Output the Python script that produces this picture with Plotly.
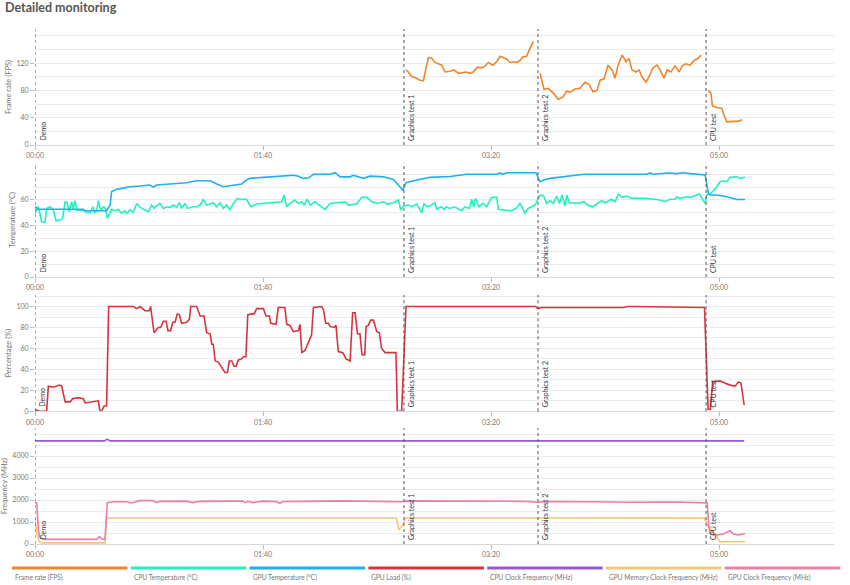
import plotly.graph_objects as go

# ---------------- data (time in seconds) ----------------
marker_times = [0, 161.8, 220.6, 294.3]
marker_labels = ["Demo", "Graphics test 1", "Graphics test 2", "CPU test"]

x_tickvals = [0, 100, 200, 300]
x_ticktext = ["00:00", "01:40", "03:20", "05:00"]

fps_ticks = [0, 40, 80, 120]
temp_ticks = [0, 20, 40, 60]
pct_ticks = [0, 20, 40, 60, 80, 100]
freq_ticks = [0, 1000, 2000, 3000, 4000]

fps_t = [162.7, 163.7, 165.2, 166.7, 168.9, 170.3, 171.0, 172.5, 174.0, 175.4, 178.4, 179.8,
         182.0, 183.8, 185.7, 187.9, 189.0, 190.8, 192.2, 194.0, 195.9, 197.4, 198.8, 200.7,
         202.5, 203.9, 205.7, 206.9, 208.3, 209.8, 211.5, 212.7, 213.9, 215.6, 217.1, 218.6,
         219.5,
         221.5, 223.2, 225.1, 227.3, 229.5, 231.4, 233.2, 234.6, 236.8, 239.0, 241.2, 243.0,
         244.7, 246.5, 247.8, 249.6, 251.3, 253.1, 254.4, 255.7, 257.5, 259.2, 260.5, 261.8,
         263.6, 264.9, 266.2, 268.0, 269.7, 271.0, 272.8, 274.1, 275.9, 277.2, 278.9, 280.7,
         282.5, 283.8, 285.5, 287.3, 289.0, 290.8, 292.1,
         293.2,
         295.3, 296.4, 297.1, 299.0, 301.2, 301.9, 303.4, 306.3, 308.5, 310.2]
fps_v = [110, 107, 100, 99, 95, 94, 105, 128, 127, 121, 117, 107,
         108, 110, 105, 106, 107, 105, 107, 114, 113, 116, 121, 117,
         122, 130, 127, 126, 121, 122, 121, 124, 129, 130, 142, 152,
         None,
         105, 82, 83, 76, 67, 70, 79, 77, 82, 83, 92, 89,
         78, 80, 95, 97, 117, 110, 98, 117, 132, 122, 127, 110,
         107, 110, 100, 92, 103, 113, 117, 110, 98, 110, 107, 116,
         107, 116, 119, 117, 124, 127, 132,
         None,
         80, 76, 57, 55, 54, 46, 34, 34, 35, 37]

cpu_temp_t = [0, 1.5, 2.9, 4.4, 5.1, 6.6, 8.0, 9.2, 11.0, 12.1, 13.2, 14.1, 15.0, 16.1, 16.8,
              17.5, 18.3, 21.2, 22.7, 24.2, 25.3, 26.3, 27.0, 27.8, 28.8, 30.0, 31.0, 31.7,
              33.6, 35.1, 36.5, 38.0, 39.4, 40.2, 41.7, 43.1, 44.6, 45.8, 47.5, 49.7, 51.2,
              52.2, 53.3, 54.8, 56.3, 57.8, 59.2, 60.7, 62.1, 63.3, 64.3, 65.8, 66.8, 68.0,
              69.5, 70.9, 72.4, 73.8, 75.3, 76.8, 78.2, 79.7, 81.1, 82.6, 84.0, 85.5, 87.0,
              88.8, 90.0, 92.8, 94.6, 97.2, 100.1, 103.0, 106.0, 108.2, 109.2, 110.4, 111.8,
              114.0, 115.5, 117.0, 118.0, 119.4, 120.8, 122.8, 125.0, 127.2, 129.4, 132.3,
              134.5, 136.0, 137.5, 141.1, 143.3, 145.5, 147.7, 149.9, 152.8, 154.3, 157.2,
              158.6, 159.4, 160.4, 161.6, 163.8, 165.2, 167.4, 169.6, 170.6, 171.8, 173.2,
              175.4, 176.2, 178.0, 179.5, 180.3, 181.7, 184.0, 187.1, 188.5, 190.5, 191.5,
              192.4, 193.2, 194.6, 196.5, 198.0, 200.3, 202.5, 203.2, 205.9, 208.8, 211.0,
              212.7, 214.1, 214.9, 216.3, 219.3, 220.0, 221.5, 223.0, 224.4, 225.9, 227.3,
              228.8, 230.0, 231.1, 232.5, 233.2, 234.4, 236.1, 238.3, 240.7, 242.2, 244.6,
              246.8, 248.5, 250.0, 252.9, 254.4, 255.8, 257.3, 259.5, 261.8, 264.7, 267.7,
              271.2, 274.1, 276.3, 278.5, 280.7, 281.4, 282.9, 285.8, 287.3, 290.2, 291.4,
              292.8, 293.9, 294.6, 296.0, 297.5, 299.0, 300.4, 301.9, 303.4, 304.8, 307.8,
              309.2, 311.4]
cpu_temp_v = [49.5, 55, 43, 42.5, 53.4, 54.5, 52.5, 43.8, 44.3, 45.6, 58.6, 58, 50.8, 58.6, 52.6,
              59.4, 52, 52, 50, 50, 54.7, 50, 51.5, 59.4, 52, 54.7, 53.3, 45.7,
              52.7, 51.6, 52.7, 49.6, 51.6, 49.6, 52.3, 50.2, 57.3, 54.7, 52.7, 51, 56,
              53.4, 55.3, 57.3, 53.4, 54.7, 54.2, 56, 54.2, 57.8, 53.4, 57.3, 53.4, 54.2,
              54.7, 54.7, 56, 60.5, 56, 56.8, 57.8, 54.7, 57.8, 53.4, 56, 52.3, 57.3,
              61.2, 60.5, 60.5, 54.7, 56.8, 57.3, 57.3, 57.8, 58.6, 63.8, 54.7, 57.3,
              59.9, 57.3, 58.6, 56, 60.5, 56, 58.6, 55.3, 52.7, 57.3, 57.8,
              57.8, 58.6, 56, 56.8, 62, 62, 58.6, 57.3, 58.6, 56.8, 57.8,
              59.4, 59.9, 52.1, 55.3, 56, 54.7, 56.8, 50, 57.3, 54.7, 55.3,
              57.8, 52.7, 54.7, 52.7, 54.7, 53.4, 54.7, 51.6, 54.7, 53.4, 60.5,
              54.7, 61.2, 54.7, 57.3, 54.7, 62, 62, 52.7, 52.1, 51.6, 53.4,
              57.3, 52.7, 49.6, 53.4, 56, 58.6, 63.8, 63.1, 57.3, 59.4, 57.3,
              63, 57.3, 63.8, 55.3, 63.8, 57.3, 57.8, 57.3, 58.6, 56, 54.7,
              57.3, 59.4, 57.8, 60.5, 58.6, 64.6, 62, 63, 61.2, 61.2, 61.2,
              60.5, 59.9, 58.6, 60.5, 60.5, 62.5, 61.2, 62.5, 62, 63.8, 64.6,
              60.5, 57.3, 63.8, 64.6, 67.2, 70.3, 74.2, 74.7, 74.2, 77.6, 78,
              76.8, 77.6]

gpu_temp_t = [0, 1.5, 21.2, 21.9, 31.4, 32.9, 33.6, 35.5, 38.0, 41.7, 46.0, 50.4, 51.9, 53.3,
              59.2, 66.5, 70.9, 76.8, 79.7, 82.6, 85.5, 90.6, 92.8, 94.3, 100.1, 108.9, 113.3,
              115.5, 117.7, 120.0, 122.1, 129.4, 131.6, 133.8, 138.2, 139.6, 144.0, 147.0,
              152.8, 157.2, 159.4, 161.3, 162.7, 164.5, 167.4, 173.2, 182.0, 189.3, 202.5,
              203.9, 205.0, 206.9, 219.7, 221.5, 223.0, 225.9, 231.7, 237.6, 240.7, 268.3,
              269.7, 271.0, 276.3, 277.7, 281.4, 284.3, 287.3, 292.8, 293.9, 295.3, 296.0,
              299.0, 303.4, 307.8, 311.4]
gpu_temp_v = [54.7, 52.7, 52.7, 51.6, 51.6, 56, 66.4, 68.2, 69, 70.3, 70.8, 71.6, 70, 71.6,
              72.4, 73.4, 75, 75, 72.4, 70.3, 71, 72.4, 75.5, 76.8, 77.6, 78.8, 79.2,
              78.5, 76.8, 77.2, 79.9, 80, 81.2, 78, 78, 79.2, 76.8, 78.5,
              78, 76, 71.6, 67.7, 73.4, 74, 75.5, 77.6, 78.3, 80, 80,
              81, 80, 81.2, 81.2, 74.2, 75.5, 76.8, 78, 79.4, 80, 80,
              81, 80, 80.5, 81, 80.5, 81.2, 80.5, 80, 79.5, 65, 63.8,
              63.8, 62.5, 60.4, 60.4]

gpu_load_t = [0, 1.5, 5.1, 5.85, 8.0, 10.7, 11.7, 13.2, 15.4, 16.5, 19.0, 21.2, 22.0, 24.9,
              26.3, 27.8, 28.5, 29.2, 30.3, 31.4, 32.3, 43.1, 44.6, 46.1, 48.25, 50.1, 50.7,
              52.2, 54.1, 55.1, 56.3, 57.5, 58.3, 59.5, 60.4, 61.4, 62.4, 63.3, 64.3, 66.5,
              67.7, 68.3, 70.9, 72.4, 74.1, 75.3, 76.8, 77.5, 78.2, 79.0, 80.4, 81.9, 83.3,
              84.4, 85.2, 86.3, 87.3, 88.2, 89.2, 90.6, 91.4, 92.5, 93.3, 95.0, 96.1, 97.2,
              100.2, 101.3, 102.8, 103.4, 105.7, 106.7, 109.6, 110.4, 111.8, 113.3, 115.5,
              116.2, 117.0, 118.4, 119.9, 121.3, 122.1, 125.7, 126.5, 127.5, 128.7, 129.4,
              131.1, 132.0, 133.0, 135.0, 136.4, 138.2, 139.3, 140.4, 141.4, 142.5, 143.4,
              144.6, 145.2, 146.2, 147.2, 148.4, 149.9, 151.0, 152.0, 153.5, 158.3, 158.9,
              160.8, 162.7, 200.0, 219.5, 220.5, 222.0, 258.0, 260.0, 262.0, 293.6, 295.2,
              296.2, 297.2, 300.4, 302.5, 304.8, 307.0, 308.5, 309.6, 311.0]
gpu_load_v = [2, 0, 0, 24, 23, 25, 24, 9, 9, 12, 13, 12, 8, 9,
              10, 10, 0, 0, 5, 5, 100, 100, 98, 100, 96, 96, 100,
              75, 80, 80, 86, 86, 77, 77, 85, 85, 93, 92, 84, 85,
              88, 100, 100, 91, 91, 75, 74, 64, 64, 48, 47, 42, 37,
              37, 48, 48, 43, 43, 49, 50, 52, 52, 92, 93, 93, 98,
              98, 91, 91, 84, 83, 99, 99, 83, 82, 76, 77,
              83, 56, 58, 65, 73, 99, 100, 97, 84, 84, 81,
              80, 82, 57, 56, 50, 48, 94, 94, 74, 74, 54,
              54, 81, 82, 87, 87, 76, 75, 60, 56, 56, 0,
              0, 100, 100, 100, 98, 99, 99, 100, 100, 99, 2,
              2, 28, 29, 27, 25, 24, 28, 27, 6]

cpu_clock_t = [0, 30.5, 31.7, 32.9, 150.0, 311.0]
cpu_clock_v = [4690, 4690, 4770, 4690, 4690, 4690]

gpu_mem_t = [0, 0.8, 1.9, 3.0, 30.7, 31.4, 158.5, 159.6, 161.5, 162.5, 293.5, 294.8, 296.4,
             297.5, 299.0, 300.4, 311.4]
gpu_mem_v = [1170, 486, 105, 50, 50, 1180, 1180, 640, 900, 1180, 1190, 864, 636,
             560, 333, 105, 105]

gpu_clock_t = [0, 0.8, 1.5, 2.0, 2.9, 3.6, 27.0, 28.2, 29.2, 30.7, 31.7, 34.3, 40.1, 41.5,
               43.0, 45.9, 51.7, 53.2, 54.6, 66.3, 69.2, 72.1, 86.7, 91.1, 92.2, 93.3, 95.6,
               99.9, 105.8, 107.3, 108.7, 114.6, 120.0, 135.0, 150.0, 158.0, 161.0, 163.0,
               180.0, 200.0, 215.0, 221.0, 225.0, 245.0, 260.0, 280.0, 294.8, 295.5, 296.0,
               297.3, 299.0, 301.9, 304.1, 304.8, 306.3, 308.5, 311.4]
gpu_clock_v = [1895, 1850, 636, 333, 257, 212, 212, 333, 240, 212, 1880, 1920, 1920, 1880,
               1880, 1970, 1970, 1880, 1940, 1950, 1880, 1940, 1950, 1950, 1880, 1940, 1880,
               1950, 1930, 1850, 1930, 1950, 1940, 1960, 1940, 1950, 1920, 1960,
               1950, 1960, 1940, 1900, 1930, 1920, 1900, 1910, 1870, 788, 485,
               409, 410, 455, 560, 600, 455, 410, 480]

series_names = ["Frame rate (FPS)", "CPU Temperature (°C)", "GPU Temperature (°C)", "GPU Load (%)",
                "CPU Clock Frequency (MHz)", "GPU Memory Clock Frequency (MHz)",
                "GPU Clock Frequency (MHz)"]
series_colors = ["#f0852d", "#22f2c0", "#1fb0f2", "#d8343e", "#9a58d2", "#f1c878", "#ec7fa6"]

# ---------------- figure ----------------
FONT = "Lato"
fig = go.Figure()

series = [
    (fps_t, fps_v, 1),
    (cpu_temp_t, cpu_temp_v, 2),
    (gpu_temp_t, gpu_temp_v, 2),
    (gpu_load_t, gpu_load_v, 3),
    (cpu_clock_t, cpu_clock_v, 4),
    (gpu_mem_t, gpu_mem_v, 4),
    (gpu_clock_t, gpu_clock_v, 4),
]
for i, (t, v, p) in enumerate(series):
    fig.add_trace(go.Scatter(
        x=t, y=v, mode="lines", name=series_names[i],
        line=dict(color=series_colors[i], width=1.6),
        xaxis="x" if p == 1 else f"x{p}", yaxis="y" if p == 1 else f"y{p}",
        showlegend=False, connectgaps=False))

M_L, M_R, M_T, M_B = 35, 16, 29, 41
W, H = 850, 585
PW, PH = W - M_L - M_R, H - M_T - M_B

def py(ypix):
    return (H - M_B - ypix) / PH

def px(xpix):
    return (xpix - M_L) / PW

panels = [
    dict(dom=[py(145), py(29)], rng=[0, 170], ticks=fps_ticks, minor=20, title="Frame rate (FPS)"),
    dict(dom=[py(277), py(162.7)], rng=[0, 89], ticks=temp_ticks, minor=10, title="Temperature (°C)"),
    dict(dom=[py(411.3), py(295)], rng=[0, 111], ticks=pct_ticks, minor=10, title="Percentage (%)"),
    dict(dom=[0, py(428.3)], rng=[0, 5260], ticks=freq_ticks, minor=500, title="Frequency (MHz)"),
]

grid_col = "#ebebeb"
tick_font = dict(family=FONT, size=7, color="#777")
layout = dict(
    width=W, height=H, margin=dict(l=M_L, r=M_R, t=M_T, b=M_B),
    plot_bgcolor="white", paper_bgcolor="white",
    font=dict(family=FONT, color="#666"),
    showlegend=False,
)
for k, pn in enumerate(panels, start=1):
    xa = "xaxis" if k == 1 else f"xaxis{k}"
    ya = "yaxis" if k == 1 else f"yaxis{k}"
    layout[xa] = dict(
        domain=[0, 1], range=[0, 350.4], anchor="y" if k == 1 else f"y{k}",
        tickvals=x_tickvals, ticktext=x_ticktext, ticks="outside", ticklen=4,
        tickcolor="#bbb", showline=True, linecolor="#d8d8d8", linewidth=1,
        showgrid=False, zeroline=False, tickfont=tick_font, automargin=False,
    )
    layout[ya] = dict(
        domain=pn["dom"], range=pn["rng"], anchor="x" if k == 1 else f"x{k}",
        tickvals=pn["ticks"], ticks="outside", ticklen=4, tickcolor="#bbb",
        showgrid=True, gridcolor=grid_col, gridwidth=1, zeroline=False,
        minor=dict(dtick=pn["minor"], tick0=0, showgrid=True, gridcolor=grid_col, ticks=""),
        showline=False, tickfont=tick_font,
        title=dict(text=pn["title"], font=dict(family=FONT, size=7.5, color="#777"), standoff=3),
        automargin=False,
    )
fig.update_layout(**layout)

# vertical section markers
for k in range(1, 5):
    xr = "x" if k == 1 else f"x{k}"
    yr = "y domain" if k == 1 else f"y{k} domain"
    for mt, ml in zip(marker_times, marker_labels):
        fig.add_shape(type="line", x0=mt, x1=mt, y0=0, y1=1, xref=xr, yref=yr,
                      line=dict(color="#555", width=1, dash="dot"), layer="above")
        fig.add_annotation(x=mt, y=0, xref=xr, yref=yr, text=ml, textangle=-90,
                           showarrow=False, xanchor="left", yanchor="bottom",
                           xshift=1, yshift=2,
                           font=dict(family=FONT, size=7, color="#333"))

# title
fig.add_annotation(x=px(3), y=py(8), xref="paper", yref="paper", text="<b>Detailed monitoring</b>",
                   showarrow=False, xanchor="left", yanchor="middle",
                   font=dict(family=FONT, size=12.5, color="#555"))

# custom legend (bars with labels underneath)
for i, (nm, col) in enumerate(zip(series_names, series_colors)):
    x0 = 12 + i * 118.8
    x1 = x0 + 115.5
    fig.add_shape(type="rect", xref="paper", yref="paper",
                  x0=px(x0), x1=px(x1), y0=py(569.5), y1=py(566.5),
                  fillcolor=col, line=dict(width=0))
    fig.add_annotation(x=px(x0 + 1), y=py(577), xref="paper", yref="paper", text=nm,
                       showarrow=False, xanchor="left", yanchor="middle",
                       font=dict(family=FONT, size=6.6, color="#777"))

fig.write_html("out.html", config={"displayModeBar": False},
               post_script="document.body.style.margin='0';document.body.style.overflow='hidden';")
